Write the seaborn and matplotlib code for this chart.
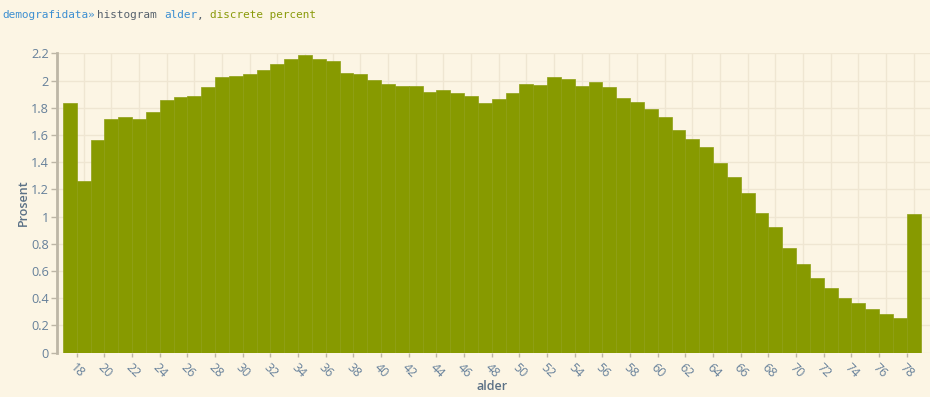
import numpy as np
import pandas as pd
import matplotlib
matplotlib.use("Agg")
import matplotlib.pyplot as plt
import seaborn as sns

# ---- data ----
ages = list(range(18, 80))
percent = [1.835, 1.264, 1.565, 1.717, 1.734, 1.720, 1.769, 1.857, 1.881, 1.884,
           1.950, 2.026, 2.033, 2.045, 2.079, 2.121, 2.158, 2.185, 2.160, 2.141,
           2.057, 2.045, 2.004, 1.974, 1.957, 1.962, 1.918, 1.930, 1.906, 1.884,
           1.832, 1.862, 1.906, 1.977, 1.969, 2.023, 2.011, 1.960, 1.991, 1.950,
           1.874, 1.840, 1.788, 1.730, 1.639, 1.570, 1.514, 1.396, 1.291, 1.173,
           1.024, 0.924, 0.769, 0.649, 0.551, 0.473, 0.402, 0.363, 0.323, 0.282,
           0.253, 1.017]
x_ticks = list(range(18, 80, 2))
y_ticks = [0, 0.2, 0.4, 0.6, 0.8, 1.0, 1.2, 1.4, 1.6, 1.8, 2.0, 2.2]
x_label = "alder"
y_label = "Prosent"

df = pd.DataFrame({"alder": np.array(ages) - 0.5, "prosent": percent})

BG = "#fcf5e4"
BAR = "#879a00"
GRID = "#efe6d2"
TICKC = "#66809a"
LABELC = "#5b7186"
SPINE = "#bdb6a6"

sns.set_theme(style="white")
plt.rcParams["font.family"] = ["Open Sans", "DejaVu Sans"]

fig = plt.figure(figsize=(9.30, 3.97), dpi=100, facecolor=BG)
ax = fig.add_axes([57.3 / 930, (397 - 352.7) / 397, (930 - 57.3) / 930, (352.7 - 53.3) / 397])
ax.set_facecolor(BG)

sns.histplot(data=df, x="alder", weights="prosent", discrete=True, ax=ax,
             color=BAR, alpha=1.0, edgecolor="#8e9f14", linewidth=0.5, zorder=3)

ax.set_xlim(16.59, 79.68)
ax.set_ylim(0, 2.2)

ax.set_xticks(x_ticks)
ax.set_xticklabels([str(t) for t in x_ticks], rotation=-45, ha="left",
                   rotation_mode="anchor", fontsize=9.0, color=TICKC)
ax.set_xticks([t + 0.5 for t in x_ticks], minor=True)
ax.set_yticks(y_ticks)
ax.set_yticklabels([f"{t:g}" for t in y_ticks], fontsize=9.2, color=TICKC)

ax.tick_params(axis="x", which="major", length=3, width=1, color=SPINE, pad=3, bottom=True)
ax.tick_params(axis="x", which="minor", length=0)
ax.tick_params(axis="y", which="major", length=4, width=1, color=SPINE, pad=2, left=True)

ax.grid(False)
ax.xaxis.grid(True, which="minor", color=GRID, linewidth=1, zorder=0)
ax.yaxis.grid(True, which="major", color=GRID, linewidth=1, zorder=0)
ax.set_axisbelow(True)

for s in ["top", "right", "bottom"]:
    ax.spines[s].set_visible(False)
ax.spines["left"].set_color(SPINE)
ax.spines["left"].set_linewidth(2)

ax.set_xlabel("")
ax.set_ylabel("")
fig.text(491.7 / 930, 1 - 386 / 397, x_label, fontsize=9.0, color=LABELC,
         fontweight="semibold", ha="center", va="center")
fig.text(23.3 / 930, 1 - 203 / 397, y_label, fontsize=9.0, color=LABELC,
         fontweight="semibold", ha="center", va="center", rotation=90)

# title in pieces
mono = ["DejaVu Sans Mono"]
fs = 7.9
yb = 1 - 18.5 / 397
pieces = [("demografidata»", 2, "#3d8fd1"), ("histogram", 97, "#56616c"),
          ("alder", 164, "#3d8fd1"), (",", 197, "#56616c"),
          ("discrete percent", 210, "#8a9a0a")]
for txt, px, col in pieces:
    fig.text(px / 930, yb, txt, family=mono, fontsize=fs, color=col, va="baseline", ha="left")

fig.savefig("out.png", dpi=100, facecolor=BG)
